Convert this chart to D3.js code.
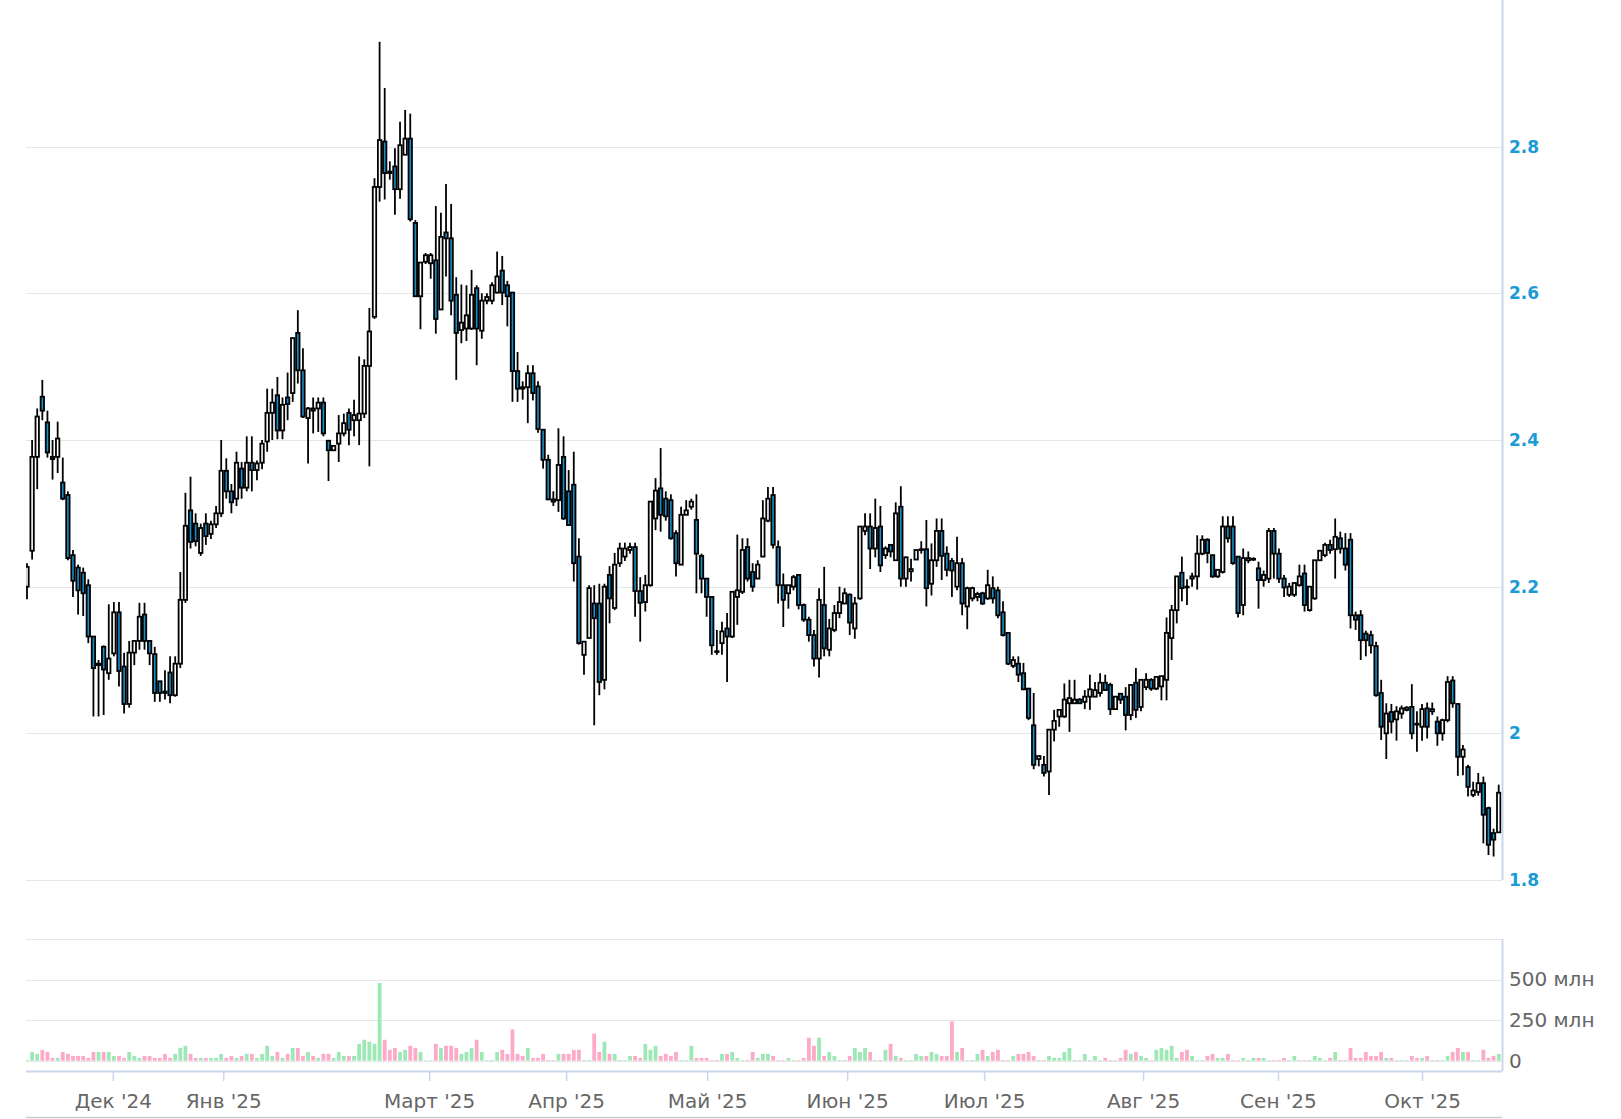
<!DOCTYPE html>
<html><head><meta charset="utf-8">
<script src="https://cdn.jsdelivr.net/npm/d3@7"></script>
<style>body{margin:0;background:#fff}svg{display:block}</style>
</head><body>
<svg id="c" width="1621" height="1119"></svg>
<script>
const openP = [2.200,2.249,2.377,2.459,2.424,2.377,2.377,2.342,2.325,2.243,2.226,2.219,2.202,2.132,2.093,2.118,2.082,2.109,2.165,2.091,2.040,2.110,2.126,2.162,2.126,2.108,2.071,2.057,2.083,2.052,2.095,2.182,2.304,2.286,2.246,2.286,2.272,2.285,2.300,2.358,2.330,2.320,2.361,2.335,2.369,2.359,2.369,2.398,2.437,2.461,2.413,2.458,2.464,2.546,2.495,2.430,2.443,2.443,2.451,2.399,2.386,2.395,2.409,2.437,2.427,2.427,2.436,2.501,2.568,2.745,2.807,2.766,2.773,2.742,2.789,2.811,2.696,2.596,2.643,2.641,2.645,2.578,2.683,2.675,2.598,2.550,2.552,2.552,2.607,2.549,2.590,2.590,2.601,2.631,2.611,2.601,2.494,2.472,2.472,2.491,2.473,2.414,2.373,2.319,2.318,2.377,2.330,2.339,2.241,2.107,2.130,2.177,2.177,2.073,2.216,2.171,2.232,2.241,2.250,2.254,2.194,2.179,2.202,2.293,2.334,2.320,2.318,2.273,2.230,2.298,2.309,2.291,2.242,2.211,2.186,2.112,2.123,2.143,2.132,2.186,2.193,2.254,2.220,2.211,2.241,2.290,2.325,2.254,2.202,2.191,2.200,2.216,2.175,2.155,2.134,2.102,2.175,2.114,2.141,2.164,2.177,2.189,2.143,2.184,2.276,2.282,2.252,2.282,2.243,2.257,2.236,2.309,2.211,2.221,2.237,2.250,2.251,2.204,2.236,2.276,2.245,2.235,2.200,2.232,2.173,2.184,2.186,2.191,2.184,2.198,2.195,2.165,2.137,2.092,2.095,2.082,2.061,2.011,1.965,1.957,1.948,2.005,2.023,2.023,2.041,2.041,2.046,2.043,2.050,2.050,2.055,2.069,2.066,2.033,2.054,2.050,2.025,2.069,2.036,2.063,2.073,2.061,2.064,2.073,2.130,2.168,2.219,2.200,2.211,2.214,2.245,2.264,2.243,2.214,2.220,2.282,2.282,2.241,2.175,2.236,2.237,2.225,2.209,2.211,2.276,2.245,2.211,2.189,2.189,2.202,2.218,2.168,2.184,2.236,2.243,2.257,2.251,2.266,2.252,2.264,2.161,2.161,2.136,2.134,2.119,2.055,2.000,2.029,2.019,2.027,2.032,2.036,2.013,2.009,2.034,2.030,2.016,2.000,2.018,2.072,2.040,1.968,1.954,1.916,1.920,1.932,1.898,1.864,1.865];
const highP = [2.232,2.400,2.443,2.482,2.440,2.400,2.425,2.376,2.330,2.250,2.230,2.226,2.210,2.132,2.100,2.120,2.176,2.179,2.179,2.110,2.126,2.126,2.178,2.178,2.126,2.118,2.071,2.086,2.105,2.105,2.220,2.328,2.350,2.300,2.286,2.300,2.290,2.310,2.400,2.375,2.340,2.384,2.370,2.405,2.405,2.372,2.400,2.470,2.470,2.486,2.458,2.492,2.539,2.577,2.525,2.445,2.458,2.458,2.458,2.400,2.393,2.434,2.436,2.443,2.455,2.514,2.510,2.580,2.757,2.943,2.880,2.780,2.798,2.834,2.850,2.845,2.700,2.642,2.655,2.655,2.719,2.710,2.749,2.722,2.622,2.612,2.611,2.632,2.611,2.600,2.600,2.615,2.657,2.651,2.617,2.602,2.520,2.480,2.502,2.502,2.480,2.414,2.380,2.330,2.416,2.405,2.359,2.384,2.266,2.125,2.202,2.202,2.204,2.204,2.228,2.246,2.260,2.260,2.260,2.260,2.213,2.216,2.316,2.348,2.389,2.330,2.326,2.277,2.309,2.318,2.320,2.326,2.245,2.211,2.186,2.141,2.152,2.164,2.193,2.271,2.266,2.266,2.232,2.236,2.318,2.336,2.336,2.263,2.218,2.202,2.216,2.216,2.177,2.159,2.141,2.198,2.227,2.156,2.175,2.200,2.198,2.191,2.186,2.282,2.300,2.300,2.320,2.310,2.255,2.257,2.315,2.337,2.241,2.238,2.250,2.262,2.291,2.259,2.293,2.293,2.255,2.239,2.268,2.239,2.200,2.200,2.193,2.193,2.223,2.214,2.200,2.180,2.137,2.105,2.105,2.096,2.061,2.055,1.969,1.969,2.005,2.032,2.032,2.068,2.073,2.073,2.048,2.059,2.080,2.070,2.082,2.080,2.069,2.050,2.055,2.063,2.066,2.089,2.073,2.082,2.075,2.077,2.078,2.158,2.175,2.214,2.241,2.210,2.219,2.270,2.270,2.266,2.243,2.223,2.296,2.296,2.296,2.241,2.252,2.248,2.240,2.234,2.222,2.280,2.280,2.252,2.216,2.205,2.205,2.230,2.230,2.200,2.236,2.250,2.260,2.264,2.293,2.275,2.273,2.273,2.166,2.168,2.140,2.140,2.125,2.073,2.041,2.040,2.037,2.038,2.037,2.067,2.030,2.040,2.042,2.042,2.023,2.020,2.078,2.078,2.041,1.984,1.957,1.934,1.946,1.941,1.900,1.870,1.930];
const lowP = [2.183,2.237,2.333,2.427,2.376,2.346,2.355,2.318,2.236,2.186,2.162,2.160,2.123,2.023,2.023,2.025,2.073,2.105,2.064,2.027,2.035,2.093,2.114,2.114,2.093,2.043,2.043,2.046,2.041,2.050,2.089,2.178,2.252,2.255,2.242,2.257,2.265,2.280,2.295,2.320,2.300,2.310,2.320,2.330,2.330,2.345,2.360,2.384,2.400,2.401,2.401,2.427,2.452,2.477,2.430,2.368,2.409,2.411,2.405,2.344,2.385,2.370,2.405,2.393,2.405,2.393,2.430,2.364,2.565,2.725,2.728,2.755,2.707,2.729,2.789,2.698,2.595,2.551,2.640,2.620,2.545,2.578,2.623,2.570,2.482,2.532,2.535,2.550,2.502,2.538,2.585,2.585,2.600,2.584,2.555,2.452,2.452,2.455,2.423,2.454,2.410,2.361,2.318,2.310,2.302,2.291,2.284,2.207,2.121,2.080,2.130,2.011,2.052,2.060,2.150,2.168,2.227,2.235,2.245,2.159,2.125,2.166,2.200,2.277,2.275,2.290,2.264,2.214,2.230,2.298,2.305,2.191,2.191,2.159,2.107,2.107,2.107,2.070,2.130,2.148,2.190,2.207,2.193,2.211,2.241,2.288,2.252,2.177,2.145,2.170,2.195,2.169,2.152,2.125,2.091,2.076,2.105,2.105,2.138,2.157,2.177,2.134,2.129,2.182,2.270,2.224,2.240,2.220,2.238,2.240,2.236,2.200,2.200,2.207,2.237,2.245,2.173,2.188,2.227,2.209,2.214,2.186,2.195,2.161,2.142,2.180,2.180,2.175,2.182,2.177,2.157,2.132,2.093,2.089,2.070,2.059,2.018,1.951,1.955,1.941,1.916,1.989,2.009,2.021,2.002,2.040,2.040,2.033,2.032,2.050,2.050,2.059,2.025,2.033,2.040,2.004,2.018,2.021,2.030,2.059,2.058,2.059,2.045,2.045,2.100,2.150,2.180,2.175,2.200,2.196,2.243,2.232,2.212,2.212,2.218,2.260,2.230,2.158,2.161,2.232,2.235,2.170,2.200,2.205,2.211,2.205,2.186,2.186,2.186,2.200,2.166,2.166,2.182,2.235,2.240,2.245,2.211,2.245,2.222,2.143,2.141,2.100,2.105,2.109,2.050,1.991,1.965,2.000,1.990,2.020,2.030,1.992,1.975,1.990,1.993,2.025,1.983,1.990,2.015,2.035,1.942,1.943,1.914,1.913,1.915,1.850,1.834,1.832,1.865];
const closeP = [2.227,2.377,2.432,2.440,2.383,2.374,2.402,2.320,2.239,2.208,2.195,2.191,2.132,2.089,2.095,2.087,2.102,2.165,2.085,2.040,2.110,2.126,2.159,2.126,2.109,2.055,2.055,2.055,2.052,2.095,2.182,2.283,2.261,2.262,2.280,2.269,2.285,2.300,2.358,2.330,2.315,2.369,2.335,2.369,2.359,2.368,2.395,2.437,2.451,2.413,2.448,2.449,2.539,2.495,2.432,2.443,2.440,2.451,2.409,2.386,2.392,2.409,2.423,2.414,2.434,2.436,2.501,2.548,2.745,2.809,2.764,2.764,2.742,2.802,2.811,2.701,2.596,2.642,2.652,2.652,2.565,2.677,2.675,2.590,2.546,2.560,2.570,2.598,2.552,2.590,2.595,2.611,2.623,2.601,2.596,2.494,2.470,2.470,2.491,2.464,2.415,2.373,2.319,2.316,2.366,2.293,2.284,2.232,2.123,2.125,2.198,2.157,2.070,2.200,2.184,2.230,2.252,2.252,2.254,2.194,2.178,2.202,2.316,2.331,2.298,2.296,2.266,2.232,2.298,2.304,2.316,2.245,2.211,2.186,2.120,2.111,2.139,2.132,2.193,2.195,2.250,2.211,2.200,2.230,2.293,2.320,2.257,2.202,2.182,2.202,2.213,2.175,2.155,2.134,2.102,2.182,2.116,2.143,2.164,2.179,2.191,2.151,2.177,2.282,2.282,2.252,2.280,2.229,2.252,2.248,2.300,2.211,2.240,2.224,2.250,2.251,2.198,2.236,2.276,2.242,2.223,2.222,2.232,2.177,2.198,2.198,2.190,2.177,2.202,2.184,2.161,2.134,2.095,2.100,2.080,2.060,2.021,1.957,1.969,1.946,2.005,2.017,2.032,2.046,2.048,2.046,2.041,2.050,2.060,2.059,2.069,2.059,2.033,2.050,2.046,2.025,2.066,2.032,2.073,2.073,2.061,2.077,2.078,2.137,2.168,2.214,2.198,2.199,2.214,2.245,2.264,2.246,2.214,2.223,2.282,2.266,2.232,2.164,2.239,2.239,2.238,2.209,2.216,2.276,2.245,2.211,2.199,2.200,2.205,2.214,2.175,2.200,2.236,2.249,2.257,2.250,2.268,2.252,2.230,2.161,2.155,2.127,2.127,2.120,2.052,2.009,2.027,2.016,2.030,2.034,2.035,2.000,2.012,2.033,2.009,2.033,2.000,2.018,2.070,2.041,1.968,1.978,1.927,1.922,1.932,1.889,1.848,1.855,1.919];
// volume, millions of shares
const volumeM = [5,54,42,67,54,17,17,54,42,29,29,29,17,54,54,54,54,29,29,17,54,29,17,29,29,17,17,42,17,42,79,92,42,17,17,17,17,17,42,17,29,17,29,42,42,17,42,92,29,54,17,42,79,79,29,54,29,17,42,42,17,54,29,29,29,104,129,117,104,479,129,67,79,54,67,92,79,54,3,3,104,79,92,92,79,42,54,79,129,54,4,4,54,67,42,192,42,29,79,17,17,42,4,4,42,42,42,67,67,4,4,167,54,117,42,42,4,4,29,29,17,104,67,92,29,42,29,54,4,4,92,17,17,17,4,4,42,42,54,17,4,4,54,17,42,42,29,4,4,17,4,4,17,142,92,142,29,54,29,4,4,29,79,54,79,54,4,4,67,104,29,17,4,4,42,29,29,54,42,29,29,242,54,79,4,4,42,67,29,54,67,4,4,29,42,42,54,29,4,4,29,17,17,54,79,4,4,42,4,29,4,17,4,4,17,67,42,54,29,17,4,67,79,67,92,17,54,67,29,4,4,29,42,17,17,42,4,4,17,4,17,17,17,4,4,4,17,4,29,4,4,4,29,17,4,17,54,4,4,79,17,17,54,29,29,54,17,17,4,4,4,29,17,17,29,4,4,4,29,54,79,54,54,4,4,67,17,29,42];
const monthLabels = ["Дек '24","Янв '25","Март '25","Апр '25","Май '25","Июн '25","Июл '25","Авг '25","Сен '25","Окт '25"];
const monthAt = [16.8,38.4,78.7,105.5,133.1,160.5,187.3,218.4,244.8,273.0];
const priceTicks = [1.8,2,2.2,2.4,2.6,2.8];
const volumeTicks = [0,250,500];
const volumeGrid = [0,250,500,750];

const svg = d3.select("#c");
const N = closeP.length;
const L = 26, R = 1502;
const x = d3.scaleLinear().domain([0, N-1]).range([27, 1498.7]);
const yP = d3.scaleLinear().domain([1.8, 3.0]).range([880, 0]);
const yV = d3.scaleLinear().domain([0, 750]).range([1060.7, 939]);
const FONT = "'DejaVu Sans', sans-serif";
const UP_VOL = "#9ee7b6", DN_VOL = "#fcaac8", DN_FILL = "#1a8cc8";

svg.append("rect").attr("width",1621).attr("height",1119).attr("fill","#fff");

svg.append("g").selectAll("line").data(priceTicks).join("line")
  .attr("x1",L).attr("x2",R).attr("y1",d=>Math.round(yP(d))+0.5).attr("y2",d=>Math.round(yP(d))+0.5)
  .attr("stroke","#e6e6e6").attr("stroke-width",1);
svg.append("g").selectAll("line").data(volumeGrid).join("line")
  .attr("x1",L).attr("x2",R).attr("y1",d=>Math.round(yV(d))+0.5).attr("y2",d=>Math.round(yV(d))+0.5)
  .attr("stroke","#e6e6e6").attr("stroke-width",1);

const defs = svg.append("defs");
defs.append("clipPath").attr("id","cp").append("rect").attr("x",L).attr("y",0).attr("width",R-L).attr("height",880);
defs.append("clipPath").attr("id","cv").append("rect").attr("x",L).attr("y",930).attr("width",R-L).attr("height",131);

const bw = 3.8;
svg.append("g").attr("clip-path","url(#cv)").selectAll("rect").data(volumeM).join("rect")
  .attr("x",(d,i)=>x(i)-bw/2).attr("width",bw)
  .attr("y",d=>yV(d)).attr("height",d=>yV(0)-yV(d))
  .attr("fill",(d,i)=>closeP[i]>=openP[i]?UP_VOL:DN_VOL);

const cg = svg.append("g").attr("clip-path","url(#cp)");
const idx = d3.range(N);
cg.selectAll("line.w").data(idx).join("line").attr("class","w")
  .attr("x1",i=>x(i)).attr("x2",i=>x(i))
  .attr("y1",i=>yP(highP[i])).attr("y2",i=>yP(lowP[i]))
  .attr("stroke","#000").attr("stroke-width",1.8);
const cw = 3.4;
cg.selectAll("rect.b").data(idx).join("rect").attr("class","b")
  .attr("x",i=>x(i)-cw/2).attr("width",cw)
  .attr("y",i=>yP(Math.max(openP[i],closeP[i])))
  .attr("height",i=>Math.max(0.8, Math.abs(yP(openP[i])-yP(closeP[i]))))
  .attr("fill",i=>closeP[i]>=openP[i]?"#fff":DN_FILL)
  .attr("stroke","#000").attr("stroke-width",1.8);

const AX = "#ccd6eb";
svg.append("line").attr("x1",R+0.5).attr("x2",R+0.5).attr("y1",0).attr("y2",880).attr("stroke",AX).attr("stroke-width",2);
svg.append("line").attr("x1",R+0.5).attr("x2",R+0.5).attr("y1",939).attr("y2",1071).attr("stroke",AX).attr("stroke-width",2);
svg.append("line").attr("x1",L).attr("x2",R).attr("y1",1071.5).attr("y2",1071.5).attr("stroke",AX).attr("stroke-width",2);
svg.append("line").attr("x1",L).attr("x2",R).attr("y1",1117.5).attr("y2",1117.5).attr("stroke","#cccccc").attr("stroke-width",1.5);

const pa = svg.append("g").attr("transform",`translate(${R},0)`)
  .call(d3.axisRight(yP).tickValues(priceTicks).tickSize(0).tickPadding(7).tickFormat(d3.format("~g")));
pa.select(".domain").remove();
pa.selectAll("text").attr("fill","#1a9ad6").attr("font-family",FONT).attr("font-weight","bold").attr("font-size",17);

const va = svg.append("g").attr("transform",`translate(${R},0)`)
  .call(d3.axisRight(yV).tickValues(volumeTicks).tickSize(0).tickPadding(7).tickFormat(d=>d===0?"0":d+" млн"));
va.select(".domain").remove();
va.selectAll("text").attr("fill","#666").attr("font-family",FONT).attr("font-size",20);

const xa = svg.append("g").attr("transform","translate(0,1071)")
  .call(d3.axisBottom(x).tickValues(monthAt).tickSize(10).tickPadding(13).tickFormat((d,i)=>monthLabels[i]));
xa.select(".domain").remove();
xa.selectAll(".tick line").attr("stroke",AX).attr("stroke-width",1.5);
xa.selectAll("text").attr("fill","#666").attr("font-family",FONT).attr("font-size",20);
</script>
</body></html>
